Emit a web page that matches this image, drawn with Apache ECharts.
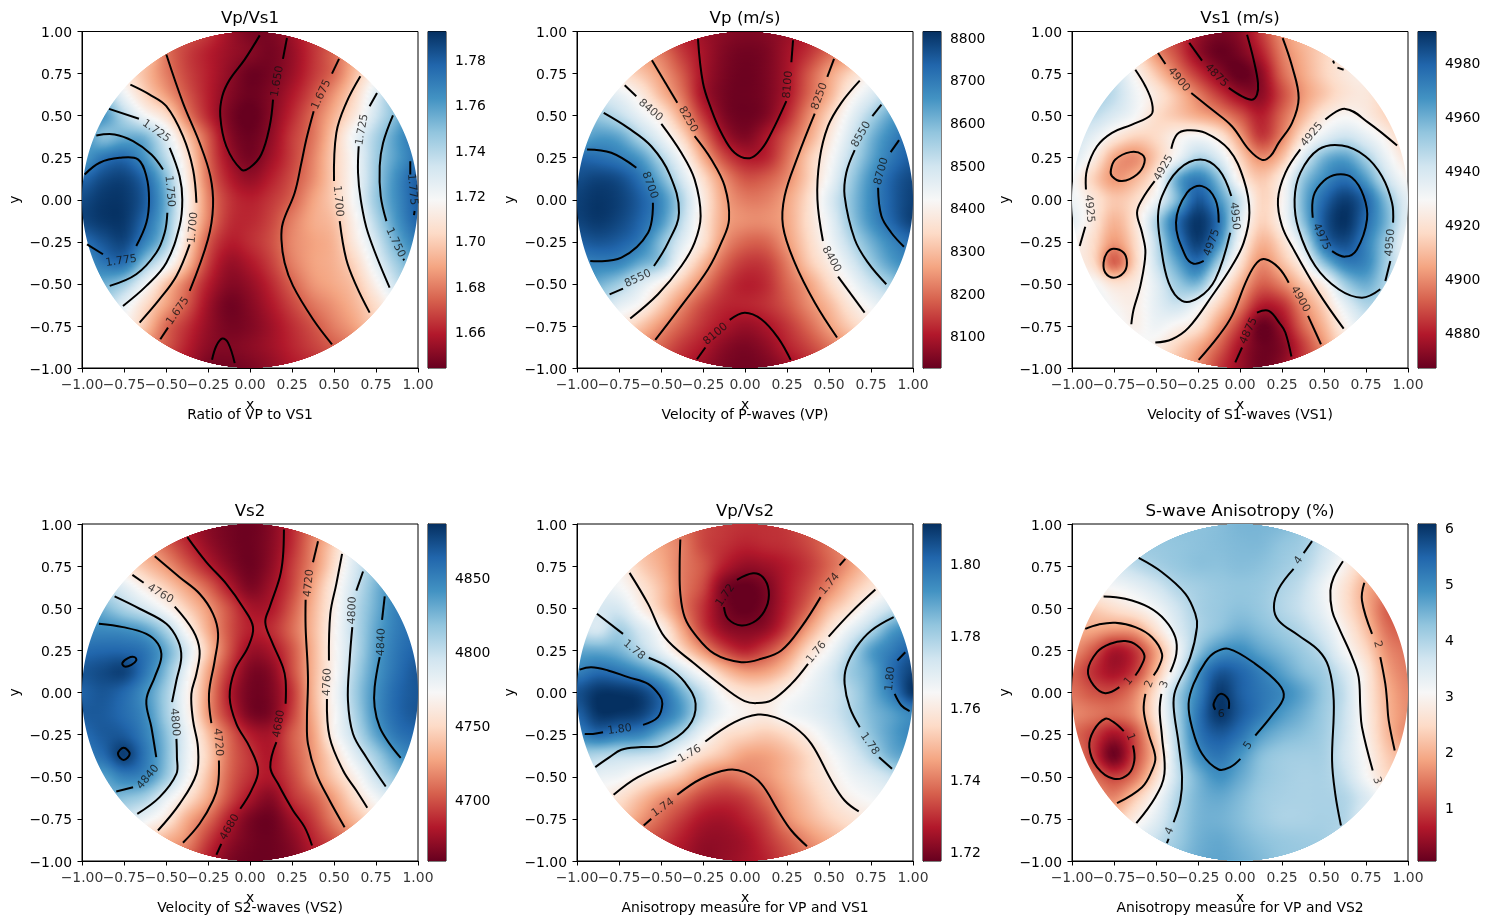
<!DOCTYPE html>
<html>
<head>
<meta charset="utf-8">
<style>html,body{margin:0;padding:0;background:#fff}#chart{width:1489px;height:924px}</style>
<script src="https://cdn.jsdelivr.net/npm/echarts@6/dist/echarts.min.js"></script>
</head>
<body>
<div id="chart"></div>
<script>
const _ = null;
// Sample positions of the gridded fields; rows run from y = 1 down to y = -1.
const xNodes = [-1,-.875,-.75,-.625,-.5,-.375,-.25,-.125,0,.125,.25,.375,.5,.625,.75,.875,1];
const yNodes = [1,.875,.75,.625,.5,.375,.25,.125,0,-.125,-.25,-.375,-.5,-.625,-.75,-.875,-1];
const xTickValues = [-1,-.75,-.5,-.25,0,.25,.5,.75,1];
const rdBu = ['#67001f','#b2182b','#d6604d','#f4a582','#fddbc7','#f7f7f7','#d1e5f0','#92c5de','#4393c3','#2166ac','#053061'];

const titles = ['Vp/Vs1','Vp (m/s)','Vs1 (m/s)','Vs2','Vp/Vs2','S-wave Anisotropy (%)'];
const captions = ['Ratio of VP to VS1','Velocity of P-waves (VP)','Velocity of S1-waves (VS1)','Velocity of S2-waves (VS2)','Anisotropy measure for VP and VS1','Anisotropy measure for VP and VS2'];
const colorRanges = [[1.6439,1.7922],[8024,8813],[4866.8,4991.3],[4658,4886],[1.7174,1.8109],[0.048,6.065]];
const colorTicks = [[1.66,1.68,1.70,1.72,1.74,1.76,1.78],[8100,8200,8300,8400,8500,8600,8700,8800],[4880,4900,4920,4940,4960,4980],[4700,4750,4800,4850],[1.72,1.74,1.76,1.78,1.80],[1,2,3,4,5,6]];
const tickDecimals = [2,0,0,0,2,0];

const fieldVpVs1 = [
[_,_,_,_,_,1.672,1.665,1.655,1.648,1.648,1.655,1.665,_,_,_,_,_],
[_,_,_,1.70,1.678,1.667,1.66,1.654,1.65,1.647,1.653,1.664,1.675,1.69,_,_,_],
[_,_,1.71,1.695,1.68,1.668,1.66,1.652,1.645,1.647,1.654,1.665,1.676,1.695,1.715,_,_],
[_,1.745,1.722,1.702,1.687,1.672,1.66,1.65,1.645,1.649,1.658,1.67,1.685,1.703,1.728,1.75,_],
[_,1.762,1.74,1.72,1.705,1.68,1.662,1.648,1.643,1.65,1.662,1.676,1.692,1.71,1.733,1.752,1.77],
[1.765,1.75,1.755,1.752,1.727,1.697,1.672,1.651,1.645,1.652,1.666,1.678,1.698,1.722,1.742,1.76,1.775],
[1.76,1.772,1.776,1.762,1.738,1.707,1.675,1.655,1.647,1.655,1.667,1.681,1.70,1.72,1.744,1.76,1.773],
[1.776,1.785,1.787,1.776,1.75,1.712,1.678,1.66,1.653,1.66,1.67,1.683,1.70,1.72,1.745,1.765,1.78],
[1.785,1.79,1.79,1.78,1.755,1.716,1.682,1.665,1.66,1.665,1.674,1.688,1.70,1.72,1.746,1.765,1.78],
[1.786,1.79,1.79,1.776,1.752,1.712,1.681,1.664,1.662,1.668,1.68,1.69,1.696,1.715,1.74,1.762,1.778],
[1.774,1.782,1.786,1.768,1.745,1.705,1.673,1.66,1.663,1.67,1.682,1.688,1.693,1.711,1.732,1.755,1.77],
[1.76,1.772,1.774,1.748,1.725,1.695,1.667,1.654,1.658,1.667,1.68,1.688,1.692,1.703,1.725,1.745,1.76],
[_,1.755,1.745,1.722,1.697,1.678,1.66,1.65,1.653,1.662,1.674,1.685,1.69,1.697,1.715,1.735,_],
[_,1.74,1.725,1.705,1.688,1.672,1.655,1.646,1.65,1.658,1.668,1.678,1.685,1.693,1.705,1.72,_],
[_,_,1.715,1.697,1.676,1.664,1.653,1.647,1.649,1.655,1.663,1.671,1.68,1.688,1.70,_,_],
[_,_,_,1.685,1.672,1.66,1.651,1.649,1.651,1.655,1.661,1.667,1.673,1.68,_,_,_],
[_,_,_,_,_,1.656,1.647,1.646,1.648,1.652,1.658,1.662,_,_,_,_,_]
];

const fieldVp = [
[_,_,_,_,_,8110,8080,8060,8050,8055,8075,8105,_,_,_,_,_],
[_,_,_,8260,8210,8140,8090,8050,8035,8045,8085,8130,8190,8240,_,_,_],
[_,_,8360,8310,8250,8175,8090,8045,8030,8045,8090,8170,8255,8330,8400,_,_],
[_,8480,8450,8385,8290,8205,8090,8040,8030,8045,8095,8185,8275,8390,8470,8550,_],
[_,8565,8520,8450,8375,8260,8135,8050,8030,8050,8120,8225,8330,8445,8545,8630,8680],
[8610,8645,8625,8540,8450,8340,8205,8090,8050,8095,8170,8260,8370,8485,8600,8680,8730],
[8730,8720,8695,8645,8540,8420,8275,8160,8105,8115,8200,8310,8405,8520,8625,8705,8750],
[8770,8785,8770,8712,8610,8485,8350,8235,8170,8180,8230,8320,8430,8555,8660,8740,8780],
[8790,8805,8790,8745,8670,8540,8385,8262,8215,8218,8262,8345,8465,8575,8670,8745,8790],
[8785,8800,8780,8735,8655,8520,8375,8265,8235,8235,8265,8350,8445,8565,8660,8735,8790],
[8745,8760,8745,8700,8590,8470,8360,8240,8190,8190,8250,8335,8425,8525,8610,8680,8725],
[8680,8690,8680,8620,8560,8405,8290,8190,8140,8145,8215,8310,8385,8475,8565,8640,8680],
[_,8610,8560,8480,8400,8310,8220,8145,8110,8125,8190,8255,8340,8420,8500,8560,_],
[_,8520,8460,8410,8320,8230,8160,8120,8115,8130,8170,8230,8290,8370,8430,8480,_],
[_,_,8380,8310,8240,8180,8130,8095,8075,8095,8135,8190,8255,8320,8380,_,_],
[_,_,_,8240,8185,8135,8100,8060,8045,8065,8110,8150,8200,8260,_,_,_],
[_,_,_,_,_,8110,8075,8045,8035,8045,8075,8115,_,_,_,_,_]
];

const fieldVs1 = [
[_,_,_,_,_,4885,4875,4870,4873,4885,4900,4910,_,_,_,_,_],
[_,_,_,4920,4900,4888,4874,4867,4870,4880,4897,4907,4915,4922,_,_,_],
[_,_,4942,4927,4912,4897,4884,4873,4866,4873,4893,4905,4915,4922,4925,_,_],
[_,4950,4945,4932,4922,4910,4897,4885,4875,4873,4888,4902,4912,4920,4922,4915,_],
[_,4945,4938,4930,4918,4912,4906,4900,4890,4880,4893,4908,4922,4928,4924,4915,4908],
[4942,4935,4923,4915,4917,4926,4930,4922,4903,4885,4898,4920,4935,4942,4935,4925,4912],
[4938,4925,4905,4900,4913,4932,4948,4938,4915,4900,4910,4937,4958,4963,4950,4933,4920],
[4930,4915,4902,4908,4923,4960,4972,4955,4925,4912,4924,4953,4968,4976,4964,4942,4928],
[4932,4922,4912,4917,4932,4958,4982,4966,4942,4916,4927,4958,4978,4988,4978,4955,4935],
[4935,4922,4908,4920,4948,4976,4990,4975,4938,4915,4927,4955,4982,4991,4977,4958,4935],
[4928,4918,4902,4917,4945,4972,4988,4968,4930,4908,4918,4942,4976,4985,4972,4952,4930],
[4925,4918,4892,4915,4942,4962,4976,4950,4920,4900,4910,4927,4955,4972,4970,4950,4932],
[_,4930,4920,4923,4936,4952,4957,4930,4908,4892,4898,4912,4926,4951,4960,4948,_],
[_,4935,4928,4925,4935,4942,4932,4915,4897,4880,4883,4900,4915,4935,4948,4945,_],
[_,_,4932,4926,4932,4927,4920,4902,4885,4867,4875,4893,4908,4926,4938,_,_],
[_,_,_,4932,4925,4915,4905,4892,4877,4868,4871,4885,4901,4920,_,_,_],
[_,_,_,_,_,4910,4900,4885,4875,4868,4873,4885,_,_,_,_,_]
];

const fieldVs2 = [
[_,_,_,_,_,4680,4668,4662,4660,4667,4685,4710,_,_,_,_,_],
[_,_,_,4725,4705,4687,4672,4663,4660,4668,4687,4715,4745,4785,_,_,_],
[_,_,4755,4738,4722,4702,4683,4668,4660,4670,4692,4718,4752,4790,4815,_,_],
[_,4800,4785,4763,4745,4725,4705,4681,4665,4675,4695,4727,4762,4796,4825,4845,_],
[_,4825,4808,4792,4770,4745,4722,4698,4678,4680,4702,4733,4765,4802,4828,4850,4858],
[4845,4845,4842,4833,4808,4768,4730,4700,4683,4687,4707,4735,4768,4803,4832,4852,4860],
[4860,4862,4862,4855,4830,4790,4740,4700,4674,4678,4700,4733,4768,4803,4835,4855,4865],
[4870,4875,4878,4855,4822,4778,4728,4690,4665,4668,4697,4733,4768,4808,4838,4858,4870],
[4865,4870,4862,4842,4812,4770,4722,4682,4662,4665,4690,4733,4772,4812,4842,4862,4870],
[4868,4868,4860,4845,4812,4772,4722,4688,4664,4665,4693,4730,4770,4808,4842,4862,4870],
[4860,4868,4868,4850,4820,4780,4738,4705,4682,4678,4702,4725,4768,4800,4833,4855,4862],
[4850,4860,4880,4855,4822,4780,4745,4708,4690,4680,4700,4722,4752,4785,4812,4838,4850],
[_,4835,4850,4845,4815,4775,4738,4705,4688,4680,4695,4718,4742,4766,4797,4820,_],
[_,4825,4820,4810,4782,4755,4728,4698,4678,4668,4688,4703,4725,4752,4775,4795,_],
[_,_,4795,4778,4760,4730,4708,4682,4664,4660,4675,4692,4715,4735,4755,_,_],
[_,_,_,4750,4732,4718,4692,4672,4662,4660,4668,4684,4700,4720,_,_,_],
[_,_,_,_,_,4705,4682,4665,4660,4660,4665,4678,_,_,_,_,_]
];

const fieldVpVs2 = [
[_,_,_,_,_,1.738,1.733,1.731,1.73,1.73,1.731,1.735,_,_,_,_,_],
[_,_,_,1.75,1.745,1.74,1.733,1.73,1.728,1.729,1.73,1.733,1.738,1.743,_,_,_],
[_,_,1.762,1.753,1.747,1.74,1.735,1.727,1.723,1.724,1.727,1.731,1.737,1.744,1.752,_,_],
[_,1.768,1.765,1.758,1.75,1.74,1.733,1.72,1.717,1.72,1.727,1.733,1.741,1.75,1.757,1.765,_],
[_,1.772,1.772,1.762,1.752,1.74,1.73,1.72,1.717,1.72,1.728,1.737,1.749,1.757,1.767,1.775,1.785],
[1.775,1.772,1.78,1.772,1.762,1.746,1.732,1.723,1.721,1.723,1.732,1.745,1.757,1.768,1.778,1.79,1.795],
[1.788,1.788,1.786,1.778,1.768,1.755,1.743,1.733,1.728,1.733,1.742,1.755,1.765,1.777,1.79,1.797,1.803],
[1.796,1.80,1.798,1.793,1.785,1.773,1.761,1.75,1.744,1.745,1.752,1.763,1.771,1.781,1.788,1.80,1.808],
[1.805,1.81,1.81,1.808,1.80,1.787,1.775,1.762,1.757,1.757,1.762,1.767,1.772,1.778,1.787,1.797,1.81],
[1.802,1.81,1.81,1.808,1.80,1.79,1.776,1.766,1.762,1.76,1.765,1.768,1.772,1.778,1.785,1.79,1.795],
[1.795,1.80,1.797,1.795,1.787,1.778,1.766,1.757,1.754,1.752,1.755,1.761,1.768,1.775,1.783,1.79,1.795],
[1.78,1.778,1.776,1.775,1.772,1.762,1.755,1.75,1.745,1.745,1.749,1.755,1.763,1.77,1.778,1.787,1.79],
[_,1.768,1.766,1.761,1.756,1.75,1.742,1.738,1.74,1.743,1.748,1.754,1.76,1.766,1.77,1.775,_],
[_,1.762,1.757,1.75,1.743,1.738,1.732,1.73,1.732,1.738,1.745,1.751,1.757,1.762,1.765,1.767,_],
[_,_,1.752,1.744,1.737,1.731,1.726,1.725,1.728,1.733,1.742,1.748,1.753,1.757,1.76,_,_],
[_,_,_,1.737,1.732,1.727,1.723,1.723,1.725,1.73,1.736,1.742,1.747,1.752,_,_,_],
[_,_,_,_,_,1.725,1.722,1.723,1.725,1.728,1.733,1.738,_,_,_,_,_]
];

const fieldAniso = [
[_,_,_,_,_,4.3,4.3,4.35,4.45,4.45,4.4,4.2,_,_,_,_,_],
[_,_,_,4.15,4.2,4.25,4.3,4.35,4.4,4.4,4.25,4.1,3.7,3.2,_,_,_],
[_,_,3.55,3.85,4.05,4.2,4.3,4.3,4.35,4.3,4.15,3.95,3.5,2.9,2.3,_,_],
[_,3.0,3.1,3.3,3.6,3.95,4.1,4.2,4.25,4.2,4.0,3.75,3.2,2.6,1.95,1.6,_],
[_,2.3,2.55,2.8,3.15,3.65,4.05,4.2,4.3,4.2,3.95,3.7,3.25,2.6,1.95,1.25,1.1],
[2.0,1.9,1.75,1.85,2.6,3.45,4.0,4.3,4.5,4.35,4.15,3.9,3.5,2.85,2.15,1.4,1.2],
[1.7,1.2,.6,.9,1.85,3.1,4.25,4.85,4.95,4.65,4.4,4.15,3.8,3.1,2.45,1.65,1.4],
[1.3,.85,.55,.95,2.05,3.4,4.85,5.6,5.45,5.1,4.7,4.35,4.1,3.55,2.75,1.85,1.5],
[1.4,1.15,1.1,1.55,2.6,4.05,5.05,5.95,5.55,5.25,5.0,4.65,4.2,3.75,2.8,2.0,1.6],
[1.6,1.45,1.35,1.65,2.7,4.05,5.25,6.0,5.6,5.2,4.8,4.5,4.15,3.7,2.85,2.05,1.65],
[1.35,1.0,.55,1.1,2.35,3.95,5.2,5.6,5.3,4.75,4.45,4.3,4.1,3.65,2.9,2.1,1.6],
[1.6,.95,.1,1.05,2.15,3.85,4.9,5.25,4.85,4.35,4.15,4.1,4.05,3.6,3.0,2.3,2.0],
[_,1.4,1.0,1.45,2.5,3.75,4.5,4.9,4.6,4.25,4.1,4.03,4.02,3.75,3.1,2.5,_],
[_,1.8,1.6,2.25,3.05,3.95,4.45,4.6,4.4,4.15,4.05,4.02,4.03,3.95,3.5,3.0,_],
[_,_,2.2,2.8,3.4,4.05,4.45,4.5,4.35,4.15,4.02,4.02,4.05,3.95,3.4,_,_],
[_,_,_,3.3,3.75,4.15,4.5,4.6,4.45,4.3,4.2,4.15,4.1,3.9,_,_,_],
[_,_,_,_,_,4.3,4.55,4.65,4.55,4.4,4.25,4.2,_,_,_,_,_]
];

// Contour polylines in axis units, broken where an inline label sits.
const contoursVpVs1 = [
[[-.984,.15],[-.895,.22],[-.776,.249],[-.667,.24],[-.617,.14],[-.601,0],[-.617,-.137],[-.677,-.275]],
[[-.875,-.324],[-.97,-.265]],
[[-.915,.382],[-.806,.388],[-.696,.348],[-.587,.269],[-.518,.18]],
[[-.492,-.077],[-.508,-.196],[-.558,-.315],[-.677,-.443],[-.835,-.512]],
[[-.839,.54],[-.661,.481]],
[[-.478,.309],[-.419,.14],[-.403,0],[-.419,-.156],[-.498,-.374],[-.617,-.512],[-.756,-.631]],
[[-.712,.684],[-.597,.625],[-.498,.556],[-.399,.378],[-.339,.18],[-.319,-.018]],
[[-.359,-.265],[-.438,-.453],[-.538,-.591],[-.657,-.73]],
[[-.498,.863],[-.399,.576],[-.3,.338],[-.236,.14],[-.22,-.038],[-.25,-.235],[-.359,-.542]],
[[-.488,-.76],[-.534,-.829]],
[[.058,.977],[-.032,.833],[-.121,.714],[-.165,.615],[-.177,.497],[-.141,.318],[-.052,.18],[-.002,.19],[.067,.269],[.117,.437],[.137,.595]],
[[.196,.837],[.22,.961]],
[[-.226,-.951],[-.2,-.868],[-.165,-.825],[-.131,-.849],[-.091,-.971]],
[[.53,.837],[.488,.75]],
[[.379,.526],[.335,.358],[.306,.22],[.266,.042],[.196,-.136],[.187,-.235],[.206,-.374],[.256,-.512],[.375,-.71],[.488,-.859]],
[[.657,.734],[.573,.576],[.514,.398],[.5,.111]],
[[.534,-.127],[.573,-.354],[.633,-.512],[.712,-.671]],
[[.756,.635],[.712,.556]],
[[.647,.318],[.643,.16],[.659,.002],[.702,-.196],[.831,-.522]],
[[.851,.502],[.792,.338],[.772,.2],[.778,.022],[.812,-.127]],
[[.912,-.352],[.918,-.36]],
[[.954,.229],[.954,.15]],
[[.98,-.067],[.976,-.091]]
];
const contoursVp = [
[[-.28,.955],[-.25,.694],[-.2,.536],[-.141,.398],[-.062,.279],[.028,.247],[.097,.299],[.157,.398],[.246,.586]],
[[.276,.817],[.286,.948]],
[[-.554,.829],[-.403,.576]],
[[-.3,.378],[-.2,.239],[-.121,.081],[-.095,-.117],[-.141,-.255],[-.22,-.413],[-.379,-.631],[-.534,-.833]],
[[.53,.837],[.49,.73]],
[[.415,.512],[.315,.259],[.236,.022],[.226,-.156],[.296,-.374],[.415,-.611],[.548,-.819]],
[[-.716,.68],[-.647,.615]],
[[-.498,.451],[-.379,.279],[-.3,.121],[-.264,-.097],[-.3,-.255],[-.379,-.394],[-.518,-.562],[-.683,-.706]],
[[.683,.708],[.573,.576],[.494,.437],[.444,.239],[.431,.002],[.464,-.245]],
[[.554,-.457],[.712,-.671]],
[[-.841,.516],[-.696,.427],[-.558,.318],[-.448,.15],[-.393,-.077],[-.458,-.255],[-.542,-.394]],
[[-.726,-.528],[-.806,-.562]],
[[.812,.566],[.758,.497]],
[[.653,.295],[.603,.16],[.593,.022],[.653,-.235],[.732,-.374],[.841,-.502]],
[[-.94,.299],[-.796,.279],[-.647,.19]],
[[-.548,-.018],[-.577,-.196],[-.736,-.344],[-.921,-.364]],
[[.917,.354],[.867,.283]],
[[.792,.071],[.812,-.097],[.871,-.196],[.946,-.279]],
[[-.286,-.948],[-.236,-.878]],
[[-.091,-.714],[-.002,-.671],[.097,-.71],[.196,-.819],[.272,-.952]]
];
const contoursVs1 = [
[[-.302,.932],[-.226,.827]],
[[-.067,.665],[.012,.615],[.071,.595],[.101,.625],[.107,.694],[.081,.833],[.042,.981]],
[[-.488,.872],[-.444,.807]],
[[-.29,.635],[-.167,.536],[-.048,.437],[.052,.299],[.131,.237],[.181,.259],[.23,.338],[.31,.457],[.349,.605],[.31,.793],[.254,.961]],
[[-.623,.773],[-.563,.675],[-.524,.576],[-.528,.506],[-.643,.447],[-.762,.398],[-.851,.318],[-.911,.18],[-.917,.061]],
[[-.921,-.16],[-.954,-.275]],
[[-.409,.303],[-.375,.388],[-.315,.413],[-.206,.398],[-.067,.299],[.022,.121],[.056,-.077],[.022,-.255],[-.048,-.394],[-.167,-.572],[-.306,-.76],[-.405,-.829],[-.504,-.849]],
[[-.508,.111],[-.583,.002],[-.613,-.077],[-.583,-.196],[-.563,-.315],[-.593,-.512],[-.633,-.651],[-.647,-.74]],
[[.935,.322],[.766,.457],[.627,.54],[.508,.477]],
[[.359,.299],[.27,.16],[.226,.002],[.25,-.156],[.319,-.295],[.468,-.552],[.617,-.766]],
[[-.052,.022],[-.127,.18],[-.236,.239],[-.365,.18],[-.464,.022],[-.488,-.097],[-.474,-.255],[-.425,-.493],[-.345,-.601],[-.246,-.582],[-.147,-.473],[-.058,-.196]],
[[-.127,-.136],[-.147,.002],[-.226,.081],[-.315,.042],[-.381,-.136],[-.325,-.334],[-.276,-.38],[-.216,-.364]],
[[.911,-.136],[.905,-.018],[.845,.14],[.746,.259],[.607,.322],[.468,.299],[.359,.16],[.325,.002],[.349,-.176],[.448,-.394],[.587,-.532],[.726,-.582],[.835,-.532]],
[[.865,-.483],[.895,-.364]],
[[.433,-.107],[.438,.022],[.498,.111],[.577,.15],[.667,.131],[.736,.022],[.756,-.117],[.696,-.295],[.627,-.338],[.548,-.305]],
[[-.246,-.952],[-.127,-.809],[-.048,-.69],[.042,-.473],[.101,-.374],[.151,-.354],[.23,-.404],[.29,-.493]],
[[.405,-.69],[.482,-.859]],
[[-.028,-.967],[.012,-.878]],
[[.101,-.671],[.171,-.661],[.24,-.74],[.27,-.789],[.306,-.932]],
[[-.768,.18],[-.742,.239],[-.653,.283],[-.583,.269],[-.569,.22],[-.613,.15],[-.702,.111],[-.762,.14],[-.768,.18]],
[[-.812,-.374],[-.792,-.315],[-.752,-.291],[-.692,-.315],[-.673,-.374],[-.692,-.433],[-.752,-.463],[-.802,-.433],[-.812,-.374]],
[[.554,.827],[.56,.81]],
[[.58,.785],[.617,.773]]
];
const contoursVs2 = [
[[-.373,.922],[-.26,.774],[-.141,.645],[-.042,.506],[.018,.388],[-.012,.269],[-.091,.131],[-.121,-.028],[-.081,-.186],[-.002,-.324],[.048,-.463],[.008,-.582],[-.058,-.69]],
[[-.171,-.898],[-.2,-.963]],
[[.202,.967],[.196,.803],[.177,.684],[.117,.506],[.091,.417],[.127,.309],[.196,.15],[.212,.071],[.212,-.067]],
[[.157,-.295],[.121,-.443],[.167,-.542],[.256,-.7],[.325,-.799],[.369,-.908]],
[[-.567,.809],[-.419,.684],[-.3,.586],[-.22,.467],[-.19,.348],[-.21,.19],[-.244,-.008],[-.23,-.182]],
[[-.185,-.404],[-.19,-.542],[-.22,-.641],[-.3,-.779],[-.399,-.892]],
[[.405,.898],[.375,.773]],
[[.331,.55],[.331,.388],[.345,.091],[.339,-.166],[.345,-.305],[.395,-.483],[.474,-.641],[.563,-.799]],
[[-.7,.698],[-.633,.651]],
[[-.448,.51],[-.339,.368],[-.3,.249],[-.319,.111],[-.349,-.008],[-.339,-.166],[-.31,-.324],[-.319,-.483],[-.419,-.661],[-.548,-.819]],
[[.548,.823],[.514,.645],[.478,.467],[.47,.19]],
[[.458,-.038],[.474,-.265],[.554,-.463],[.633,-.582],[.698,-.684]],
[[-.806,.57],[-.657,.497],[-.498,.408],[-.429,.309],[-.409,.21],[-.438,.071],[-.464,-.057]],
[[-.438,-.275],[-.435,-.384],[-.438,-.483],[-.538,-.621],[-.671,-.72]],
[[.673,.718],[.633,.605]],
[[.609,.388],[.593,.19],[.583,-.047],[.613,-.245],[.692,-.384],[.808,-.558]],
[[-.899,.408],[-.756,.388],[-.617,.348],[-.548,.289],[-.528,.21],[-.567,.091],[-.617,-.047],[-.587,-.206],[-.558,-.384]],
[[-.796,-.588],[-.696,-.562]],
[[.802,.57],[.786,.431]],
[[.772,.21],[.742,.032],[.742,-.087],[.772,-.206],[.831,-.305],[.897,-.388]],
[[-.76,.174],[-.726,.204],[-.687,.21],[-.677,.19],[-.706,.164],[-.746,.154],[-.76,.174]],
[[-.786,-.364],[-.752,-.328],[-.716,-.364],[-.752,-.4],[-.786,-.364]]
];
const contoursVpVs2 = [
[[-.125,.506],[-.101,.437],[-.022,.398],[.067,.427],[.127,.506],[.141,.605],[.107,.684],[.048,.708],[-.048,.669]],
[[-.385,.908],[-.389,.744],[-.385,.586],[-.359,.447],[-.3,.348],[-.181,.229],[-.022,.18],[.097,.2],[.216,.249],[.335,.388],[.45,.566]],
[[.563,.754],[.597,.793]],
[[-.687,.71],[-.577,.526],[-.478,.328],[-.3,.17],[-.101,.012],[-.002,-.051],[.067,-.063],[.157,-.047],[.276,.051],[.375,.17]],
[[.498,.332],[.633,.477],[.776,.611]],
[[-.782,-.607],[-.637,-.502],[-.409,-.404]],
[[-.236,-.291],[-.062,-.176],[.077,-.131],[.177,-.146],[.296,-.206],[.395,-.305],[.514,-.522],[.593,-.641],[.677,-.706]],
[[-.881,.467],[-.726,.348]],
[[-.573,.206],[-.458,.15],[-.359,.061],[-.294,-.067],[-.339,-.206],[-.498,-.315],[-.617,-.324],[-.736,-.34],[-.806,-.384],[-.891,-.443]],
[[-.984,.136],[-.915,.15],[-.815,.131],[-.696,.091],[-.577,.051],[-.508,-.018],[-.492,-.067],[-.518,-.146],[-.607,-.192]],
[[-.845,-.236],[-.905,-.246],[-.954,-.246]],
[[.885,.447],[.752,.368],[.663,.269],[.603,.15],[.593,.051],[.623,-.087],[.683,-.206]],
[[.798,-.384],[.875,-.453]],
[[.954,.239],[.907,.19]],
[[.891,-.008],[.931,-.077],[.98,-.111]],
[[-.603,-.789],[-.558,-.75]],
[[-.403,-.607],[-.26,-.512],[-.101,-.459],[-.002,-.473],[.097,-.542],[.196,-.7],[.276,-.819],[.369,-.912]]
];
const contoursAniso = [
[[-.623,.101],[-.587,.16],[-.569,.22],[-.613,.279],[-.683,.305],[-.772,.289],[-.851,.239],[-.905,.131],[-.871,.042],[-.802,-.004],[-.718,.032]],
[[-.692,-.229],[-.752,-.176],[-.802,-.156],[-.871,-.226],[-.897,-.324],[-.851,-.443],[-.752,-.512],[-.663,-.483],[-.629,-.404],[-.637,-.315]],
[[-.921,.378],[-.841,.404],[-.742,.414],[-.623,.388],[-.524,.328],[-.464,.229],[-.484,.15],[-.514,.101]],
[[-.563,-.008],[-.573,-.107],[-.544,-.245],[-.504,-.384],[-.524,-.463],[-.583,-.562],[-.732,-.657]],
[[-.812,.57],[-.683,.556],[-.544,.506],[-.444,.427],[-.385,.328],[-.379,.229],[-.415,.121]],
[[-.468,-.008],[-.478,-.107],[-.464,-.265],[-.45,-.483],[-.504,-.621],[-.617,-.775]],
[[-.603,.799],[-.464,.714],[-.325,.586],[-.266,.467],[-.256,.388],[-.296,.21],[-.385,.012],[-.395,-.087],[-.365,-.305],[-.345,-.502],[-.355,-.641],[-.395,-.77]],
[[-.435,-.894],[-.425,-.868]],
[[.091,-.255],[.19,-.136],[.26,-.028],[.23,.051],[.091,.17],[-.067,.259],[-.147,.239],[-.206,.18],[-.276,.051],[-.306,-.067],[-.286,-.206],[-.226,-.364],[-.127,-.457],[-.058,-.443],[.002,-.394]],
[[-.147,-.103],[-.157,-.067],[-.117,-.008],[-.071,-.038],[-.067,-.097]],
[[.429,.898],[.379,.827]],
[[.319,.734],[.23,.615],[.202,.506],[.23,.427],[.349,.338],[.468,.249],[.528,.15],[.558,-.047],[.548,-.404],[.567,-.601],[.601,-.789]],
[[.613,.779],[.558,.684],[.538,.605],[.548,.487],[.587,.388],[.667,.21],[.706,.091],[.716,-.087],[.726,-.206],[.79,-.463]],
[[.74,.651],[.726,.546],[.786,.348]],
[[.835,.21],[.865,.051],[.875,-.047],[.885,-.166],[.921,-.344]]
];

// Inline contour labels: x, y, text, rotation in degrees.
const labelsVpVs1 = [[-.558,.408,'1.725',-35],[-.478,.051,'1.750',-85],[-.766,-.364,'1.775',8],[-.339,-.166,'1.700',85],[-.429,-.661,'1.675',55],[.163,.704,'1.650',80],[.425,.625,'1.675',65],[.667,.417,'1.725',80],[.524,-.008,'1.700',-85],[.865,-.255,'1.750',-65],[.966,.061,'1.775',-85]];
const labelsVp = [[-.562,.532,'8400',-40],[-.339,.477,'8250',-60],[.256,.684,'8100',85],[.444,.615,'8250',70],[.692,.388,'8550',60],[-.567,.087,'8700',-70],[.812,.17,'8700',75],[-.637,-.469,'8550',25],[.514,-.354,'8400',-60],[-.175,-.799,'8100',40]];
const labelsVs1 = [[-.365,.714,'4900',-50],[-.141,.738,'4875',-45],[-.897,-.053,'4925',-85],[-.454,.19,'4925',60],[-.032,-.097,'4950',-85],[-.167,-.255,'4975',70],[.429,.388,'4925',50],[.484,-.22,'4975',-65],[.895,-.255,'4950',85],[.359,-.591,'4900',-60],[.052,-.779,'4875',65]];
const labelsVs2 = [[-.534,.586,'4760',-30],[.351,.649,'4720',85],[.609,.487,'4800',88],[.782,.299,'4840',88],[.46,.061,'4760',88],[-.448,-.176,'4800',-85],[-.19,-.295,'4720',-85],[.173,-.186,'4680',80],[-.607,-.502,'4840',50],[-.121,-.799,'4680',60]];
const labelsVpVs2 = [[-.117,.576,'1.72',55],[.504,.645,'1.74',50],[.425,.239,'1.76',50],[-.661,.253,'1.78',-40],[.865,.081,'1.80',85],[-.746,-.22,'1.80',8],[-.329,-.364,'1.76',30],[.742,-.305,'1.78',-55],[-.488,-.684,'1.74',35]];
const labelsAniso = [[-.663,.067,'1',50],[-.653,-.265,'1',-70],[-.54,.051,'2',70],[-.45,.047,'3',70],[.349,.783,'4',55],[-.419,-.823,'4',65],[.048,-.315,'5',55],[-.111,-.131,'6',0],[.819,.285,'2',-75],[.815,-.522,'3',-70]];

const fields = [fieldVpVs1,fieldVp,fieldVs1,fieldVs2,fieldVpVs2,fieldAniso];
const contourSets = [contoursVpVs1,contoursVp,contoursVs1,contoursVs2,contoursVpVs2,contoursAniso];
const labelSets = [labelsVpVs1,labelsVp,labelsVs1,labelsVs2,labelsVpVs2,labelsAniso];

const FONT = '"DejaVu Sans"';
const panelLeft = [82, 577, 1072];
const panelTop = [31.5, 524];
const panelHeight = [336.5, 337];
const titleRise = [21.5, 20.5];

function hexRgb(h){ return [1,3,5].map(i => parseInt(h.substr(i,2),16)); }
const rdBuRgb = rdBu.map(hexRgb);
function colorOf(t){
  t = Math.max(0, Math.min(1, t)) * 10;
  const i = Math.min(9, Math.floor(t)), f = t - i, a = rdBuRgb[i], b = rdBuRgb[i+1];
  return 'rgb(' + [0,1,2].map(k => Math.round(a[k] + (b[k]-a[k])*f)).join(',') + ')';
}
// Cells beyond the disk carry no reading; give them their neighbours' mean so shading stays continuous at the rim.
function closeGaps(rows){
  const g = rows.map(r => r.slice());
  let open = true;
  while (open) {
    open = false;
    const snap = g.map(r => r.slice());
    g.forEach((r,i) => r.forEach((v,j) => {
      if (v !== null) return;
      const n = [[i-1,j],[i+1,j],[i,j-1],[i,j+1]].map(([a,b]) => snap[a] ? snap[a][b] : undefined).filter(q => q !== null && q !== undefined);
      if (n.length) g[i][j] = n.reduce((s,q) => s+q, 0) / n.length; else open = true;
    }));
  }
  return g;
}
function cr(p0,p1,p2,p3,t){
  return 0.5*((2*p1)+(-p0+p2)*t+(2*p0-5*p1+4*p2-p3)*t*t+(-p0+3*p1-3*p2+p3)*t*t*t);
}
// Paints one band of the disk between two sampled rows as 1px strips with a horizontal gradient.
function bandRenderer(panel){
  const g = closeGaps(fields[panel]);
  const [lo,hi] = colorRanges[panel];
  const nx = xNodes.length, ny = yNodes.length;
  return function(params, api){
    const i = params.dataIndex;
    if (i >= ny-1) return null;
    const top = api.coord([0,yNodes[i]])[1], bot = api.coord([0,yNodes[i+1]])[1];
    const children = [];
    for (let py = Math.ceil(top-0.5); py + 0.5 < bot; py++) {
      const t = (py + 0.5 - top) / (bot - top);
      const yv = yNodes[i] + t*(yNodes[i+1]-yNodes[i]);
      if (Math.abs(yv) >= 1) continue;
      const half = Math.sqrt(1 - yv*yv);
      const col = [];
      for (let c = 0; c < nx; c++) {
        col.push(cr(g[Math.max(i-1,0)][c], g[i][c], g[i+1][c], g[Math.min(i+2,ny-1)][c], t));
      }
      const x0 = api.coord([-half,yv])[0], x1 = api.coord([half,yv])[0];
      const stops = [];
      const n = Math.max(2, Math.round(half*2/0.03));
      for (let s = 0; s <= n; s++) {
        const xv = -half + 2*half*s/n;
        const u = (xv+1)/0.125, c = Math.min(nx-2, Math.floor(u)), f = u-c;
        const v = cr(col[Math.max(c-1,0)], col[c], col[c+1], col[Math.min(c+2,nx-1)], f);
        stops.push({offset:s/n, color:colorOf((v-lo)/(hi-lo))});
      }
      children.push({type:'rect', silent:true,
        shape:{x:x0,y:py,width:x1-x0,height:1},
        style:{fill:{type:'linear',x:x0,y:0,x2:x1,y2:0,global:true,colorStops:stops}}});
    }
    return {type:'group', children};
  };
}
function colorbarRenderer(panel){
  return function(params, api){
    const a = api.coord([0,colorRanges[panel][1]]), b = api.coord([1,colorRanges[panel][0]]);
    return {type:'rect', silent:true, shape:{x:a[0],y:a[1],width:b[0]-a[0],height:b[1]-a[1]},
      style:{fill:{type:'linear',x:0,y:1,x2:0,y2:0,colorStops:rdBu.map((c,k) => ({offset:k/10,color:c}))}}};
  };
}
// One contour run: the whole path is emitted once, closed runs become smooth loops.
function contourRenderer(seg){
  const closed = seg.length > 3 && seg[0][0] === seg[seg.length-1][0] && seg[0][1] === seg[seg.length-1][1];
  return function(params, api){
    if (params.dataIndex !== 0) return null;
    const pts = (closed ? seg.slice(0,-1) : seg).map(q => api.coord(q));
    return {type: closed ? 'polygon' : 'polyline', silent:true,
      shape:{points:pts, smooth:0.38},
      style:{fill:null, stroke:'#000', lineWidth:2}};
  };
}
const tickFmt = v => v.toFixed(2).replace('-','\u2212');
const textBase = {fontFamily:FONT, color:'#000', fontSize:13.9};
// A short line box hung from the tick sets the labels just under their tick, as the font's metrics want.
const yLabelDrop = {verticalAlign:'top', lineHeight:4};

const grid = [], xAxis = [], yAxis = [], series = [], title = [];
titles.forEach((name,p) => {
  const col = p % 3, row = Math.floor(p/3);
  const left = panelLeft[col], top = panelTop[row], h = panelHeight[row];
  const ax = grid.length;
  grid.push({left, top, width:336, height:h, show:true, borderColor:'#000', borderWidth:1, backgroundColor:'transparent'});
  grid.push({left:left+346, top, width:18, height:h, show:true, borderColor:'#000', borderWidth:1, backgroundColor:'transparent'});
  xAxis.push({gridIndex:ax, type:'value', min:-1, max:1, interval:0.25, name:'x', nameLocation:'middle', nameGap:30,
    nameTextStyle:textBase, splitLine:{show:false},
    axisLine:{onZero:false,lineStyle:{color:'#000',width:1}}, axisTick:{length:4.5,lineStyle:{color:'#000'}},
    axisLabel:{show:false}});
  yAxis.push({gridIndex:ax, type:'value', min:-1, max:1, interval:0.25, name:'y', nameLocation:'middle', nameGap:60, nameRotate:90,
    nameTextStyle:textBase, splitLine:{show:false},
    axisLine:{onZero:false,lineStyle:{color:'#000',width:1}}, axisTick:{length:4.5,lineStyle:{color:'#000'}},
    axisLabel:Object.assign({margin:10, formatter:tickFmt, showMinLabel:true, showMaxLabel:true}, textBase, yLabelDrop)});
  xAxis.push({gridIndex:ax+1, type:'value', min:0, max:1, show:false});
  yAxis.push({gridIndex:ax+1, type:'value', position:'right', min:colorRanges[p][0], max:colorRanges[p][1], splitLine:{show:false},
    axisLine:{show:true,lineStyle:{color:'#000'}},
    axisTick:{show:true,length:4.5,customValues:colorTicks[p],lineStyle:{color:'#000'}},
    axisLabel:Object.assign({show:true,margin:9,customValues:colorTicks[p],formatter:v => v.toFixed(tickDecimals[p])}, textBase, yLabelDrop)});

  series.push({type:'custom', xAxisIndex:ax, yAxisIndex:ax, z:1, silent:true, clip:true,
    encode:{x:0,y:1}, data:yNodes.map(y => [0,y]), renderItem:bandRenderer(p)});
  series.push({type:'custom', xAxisIndex:ax+1, yAxisIndex:ax+1, z:1, silent:true,
    encode:{x:0,y:1}, data:[[0,colorRanges[p][0]]], renderItem:colorbarRenderer(p)});
  contourSets[p].forEach(seg => series.push({type:'custom', xAxisIndex:ax, yAxisIndex:ax, z:2, silent:true, clip:true,
    encode:{x:0,y:1}, data:seg, renderItem:contourRenderer(seg)}));
  series.push({type:'scatter', xAxisIndex:ax, yAxisIndex:ax, z:3, silent:true, symbolSize:0,
    data:labelSets[p].map(l => ({value:[l[0],l[1]],
      label:{show:true,position:'inside',formatter:l[2],rotate:l[3],fontSize:11,fontFamily:FONT,color:'#111'}}))});
  // The x tick texts touch each other at this size, so they are set as point labels on the lower spine and all stay visible.
  series.push({type:'scatter', xAxisIndex:ax, yAxisIndex:ax, z:3, silent:true, symbolSize:0, clip:false,
    data:xTickValues.map(v => ({value:[v,-1],
      label:Object.assign({show:true,position:'bottom',distance:10,formatter:tickFmt(v)}, textBase)}))});

  title.push({text:name, left:left+168, top:top-titleRise[row], textAlign:'center',
    textStyle:{fontFamily:FONT,fontSize:16.67,fontWeight:'normal',color:'#000'}, padding:0});
  title.push({text:captions[p], left:left+168, top:top+h+40, textAlign:'center',
    textStyle:{fontFamily:FONT,fontSize:13.9,fontWeight:'normal',color:'#000'}, padding:0});
});

const chart = echarts.init(document.getElementById('chart'), null, {renderer:'canvas'});
chart.setOption({animation:false, backgroundColor:'#fff', title, grid, xAxis, yAxis, series});
</script>
</body>
</html>
